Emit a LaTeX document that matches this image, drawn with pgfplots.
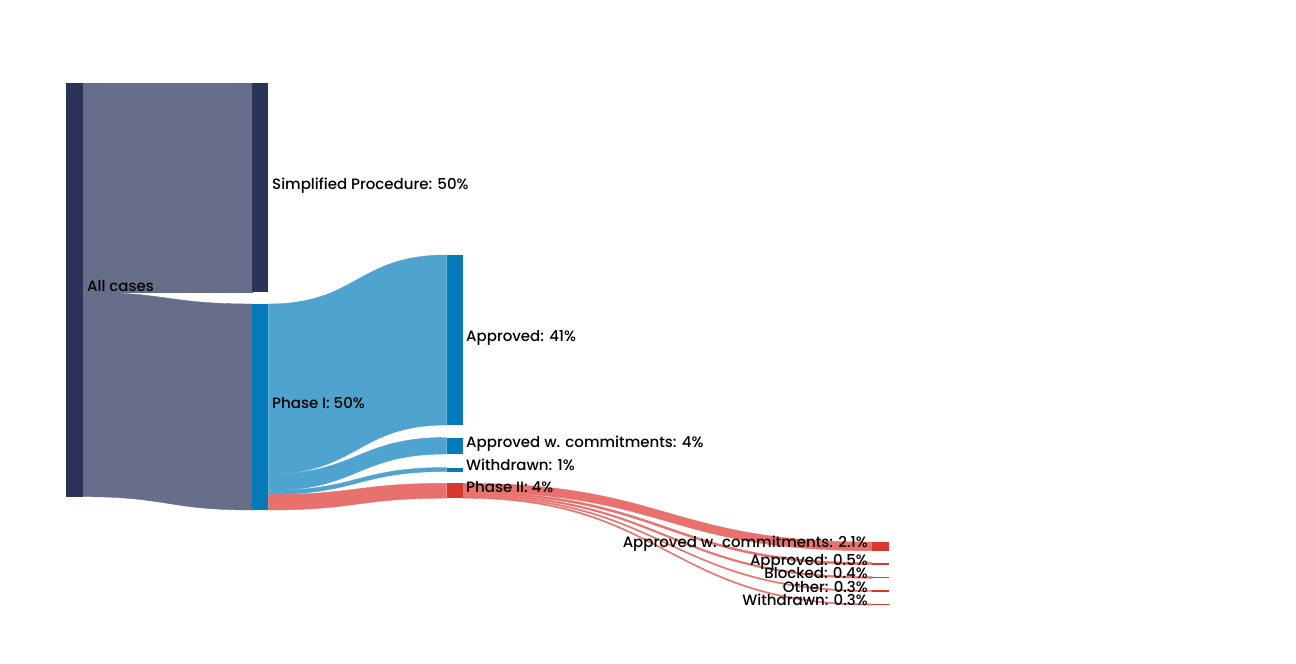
\documentclass[border=0pt]{standalone}
\usepackage{pgfplots}
\usepackage{pgfplotstable}
\pgfplotsset{compat=1.18}
\usepackage{fontspec}
\setmainfont{Poppins}[UprightFont=* Medium]

\definecolor{navynode}{HTML}{2B3359}
\definecolor{navylink}{HTML}{676E8A}
\definecolor{bluenode}{HTML}{047AB8}
\definecolor{bluelink}{HTML}{4FA3CF}
\definecolor{rednode}{HTML}{D7392F}
\definecolor{redlink}{HTML}{E8716D}

% links: source x, source top/bottom, target x, target top/bottom (px), colour
\pgfplotstableread{
x0    t0     b0     x1    t1     b1     c
83    83     292.3  252.3 83     292.3  navylink
83    292.3  496.7  252.3 304    510    navylink
268.3 304    474    446.5 255    425    bluelink
268.3 474    490.5  446.5 437.5  454    bluelink
268.3 490.5  494.5  446.5 467.5  471.5  bluelink
268.3 494.5  510    446.5 483.3  498.2  redlink
462.5 483.3  492.0  872   542    550.7  redlink
462.5 492.0  494.07 872   562.6  564.7  redlink
462.5 494.07 495.73 872   576.6  578.3  redlink
462.5 495.73 496.97 872   590.3  591.5  redlink
462.5 496.97 498.2  872   603.9  605.1  redlink
}\links

\newcommand\lab[4]{\node[anchor=#1,font=\fontsize{15pt}{18pt}\selectfont,text=black,inner sep=0pt] at (axis cs:#2,#3) {#4};}

\begin{document}
\begin{tikzpicture}
\begin{axis}[hide axis, scale only axis, width=1296pt, height=664pt,
  xmin=0, xmax=1296, ymin=0, ymax=664, y dir=reverse, clip=false]

\pgfplotstablegetrowsof{\links}
\pgfmathtruncatemacro\nlinks{\pgfplotsretval-1}
\pgfplotsinvokeforeach{0,...,\nlinks}{
  \pgfplotstablegetelem{#1}{x0}\of\links\let\xa\pgfplotsretval
  \pgfplotstablegetelem{#1}{t0}\of\links\let\ta\pgfplotsretval
  \pgfplotstablegetelem{#1}{b0}\of\links\let\ba\pgfplotsretval
  \pgfplotstablegetelem{#1}{x1}\of\links\let\xb\pgfplotsretval
  \pgfplotstablegetelem{#1}{t1}\of\links\let\tb\pgfplotsretval
  \pgfplotstablegetelem{#1}{b1}\of\links\let\bb\pgfplotsretval
  \pgfplotstablegetelem{#1}{c}\of\links\let\lc\pgfplotsretval
  \pgfmathsetmacro\xm{(\xa+\xb)/2}
  \edef\temp{\noexpand\filldraw[fill=\lc, draw=\lc, line width=0.4pt]
    (axis cs:\xa,\ta) .. controls (axis cs:\xm,\ta) and (axis cs:\xm,\tb) .. (axis cs:\xb,\tb)
    -- (axis cs:\xb,\bb) .. controls (axis cs:\xm,\bb) and (axis cs:\xm,\ba) .. (axis cs:\xa,\ba) -- cycle;}
  \temp
}

% nodes
\addplot[fill=navynode, draw=none] coordinates {(66.3,83) (83,83) (83,496.7) (66.3,496.7)};
\addplot[fill=navynode, draw=none] coordinates {(252.3,83) (268.3,83) (268.3,292.3) (252.3,292.3)};
\addplot[fill=bluenode, draw=none] coordinates {(252.3,304) (268.3,304) (268.3,510) (252.3,510)};
\addplot[fill=bluenode, draw=none] coordinates {(446.5,255) (462.5,255) (462.5,425) (446.5,425)};
\addplot[fill=bluenode, draw=none] coordinates {(446.5,437.5) (462.5,437.5) (462.5,454) (446.5,454)};
\addplot[fill=bluenode, draw=none] coordinates {(446.5,467.5) (462.5,467.5) (462.5,471.5) (446.5,471.5)};
\addplot[fill=rednode, draw=none] coordinates {(446.5,483.3) (462.5,483.3) (462.5,498.2) (446.5,498.2)};
\addplot[fill=rednode, draw=none] coordinates {(872,542) (889,542) (889,550.7) (872,550.7)};
\addplot[fill=rednode, draw=none] coordinates {(872,562.6) (889,562.6) (889,564.7) (872,564.7)};
\addplot[fill=rednode, draw=none] coordinates {(872,576.6) (889,576.6) (889,578.3) (872,578.3)};
\addplot[fill=rednode, draw=none] coordinates {(872,590.3) (889,590.3) (889,591.5) (872,591.5)};
\addplot[fill=rednode, draw=none] coordinates {(872,603.9) (889,603.9) (889,605.1) (872,605.1)};

% labels
\lab{base west}{87}{291.3}{All cases}
\lab{base west}{272}{189}{Simplified Procedure: 50\%}
\lab{base west}{272}{408.3}{Phase I: 50\%}
\lab{base west}{466}{341.3}{Approved: 41\%}
\lab{base west}{466}{447}{Approved w. commitments: 4\%}
\lab{base west}{466}{470.8}{Withdrawn: 1\%}
\lab{base west}{466}{492}{Phase II: 4\%}
\lab{base east}{868}{547.6}{Approved w. commitments: 2.1\%}
\lab{base east}{868}{565}{Approved: 0.5\%}
\lab{base east}{868}{578.7}{Blocked: 0.4\%}
\lab{base east}{868}{592.2}{Other: 0.3\%}
\lab{base east}{868}{605.8}{Withdrawn: 0.3\%}
\end{axis}
\pgfresetboundingbox
\useasboundingbox (current axis.south west) rectangle (current axis.north east);
\end{tikzpicture}
\end{document}
